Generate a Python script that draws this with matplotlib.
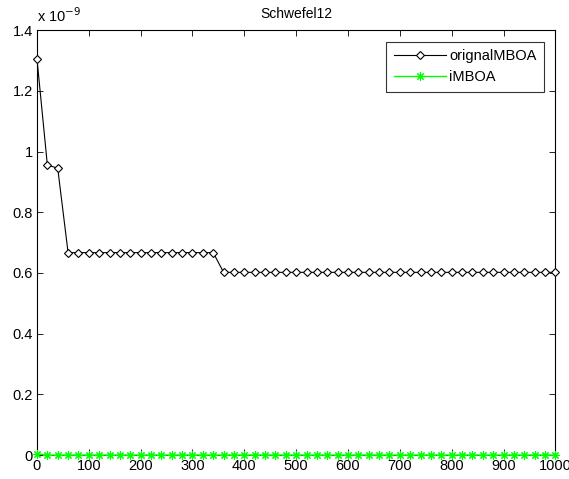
import matplotlib
matplotlib.use("Agg")
import matplotlib.pyplot as plt
from matplotlib.ticker import FormatStrFormatter

plt.rcParams["font.family"] = ["Liberation Sans", "DejaVu Sans"]

# iterations (every 20th shown)
iters = list(range(0, 1001, 20))

# best fitness, in units of 1e-9
orig_mboa = [1.305, 0.956, 0.945,
             0.667, 0.667, 0.667, 0.667, 0.667, 0.667, 0.667, 0.667,
             0.667, 0.667, 0.667, 0.667, 0.667, 0.667, 0.667,
             0.602, 0.602, 0.602, 0.602, 0.602, 0.602, 0.602, 0.602,
             0.602, 0.602, 0.602, 0.602, 0.602, 0.602, 0.602, 0.602,
             0.602, 0.602, 0.602, 0.602, 0.602, 0.602, 0.602, 0.602,
             0.602, 0.602, 0.602, 0.602, 0.602, 0.602, 0.602, 0.602,
             0.602]
imboa = [0.004, 0.0, 0.0, 0.0, 0.0, 0.0, 0.0, 0.0, 0.0, 0.0,
         0.0, 0.0, 0.0, 0.0, 0.0, 0.0, 0.0, 0.0, 0.0, 0.0,
         0.0, 0.0, 0.0, 0.0, 0.0, 0.0, 0.0, 0.0, 0.0, 0.0,
         0.0, 0.0, 0.0, 0.0, 0.0, 0.0, 0.0, 0.0, 0.0, 0.0,
         0.0, 0.0, 0.0, 0.0, 0.0, 0.0, 0.0, 0.0, 0.0, 0.0,
         0.0]

fig = plt.figure(figsize=(5.69, 4.79), dpi=100)
ax = fig.add_axes([0.065, 0.05, 0.911, 0.887])

ax.plot(iters, orig_mboa, color="black", lw=0.8, marker="D", ms=4.5,
        mfc="white", mec="black", mew=0.8, label="orignalMBOA",
        clip_on=False, zorder=3)
ax.plot(iters, imboa, color="#00ff00", lw=1.0, marker=(8, 2, 0), ms=6,
        mec="#00ff00", mew=0.8, label="iMBOA", clip_on=False, zorder=4)

ax.set_xlim(0, 1000)
ax.set_ylim(0, 1.4)
ax.set_xticks(range(0, 1001, 100))
ax.set_yticks([0, 0.2, 0.4, 0.6, 0.8, 1.0, 1.2, 1.4])
ax.yaxis.set_major_formatter(FormatStrFormatter("%g"))
ax.tick_params(direction="in", top=True, right=True, length=4, width=0.6,
               labelsize=10.5, pad=3)
for s in ax.spines.values():
    s.set_linewidth(0.8)

ax.set_title("Schwefel12", fontsize=10, pad=9)
ax.text(0.0, 1.012, "x 10$^{-9}$", transform=ax.transAxes, fontsize=10.5,
        ha="left", va="bottom")

leg = ax.legend(loc="upper right", fontsize=10.5, frameon=True, fancybox=False,
                edgecolor="black", borderaxespad=0.8, handlelength=3.6,
                borderpad=0.5, labelspacing=0.5, handletextpad=0.2)
leg.get_frame().set_linewidth(0.8)

fig.savefig("out.png", dpi=100)
